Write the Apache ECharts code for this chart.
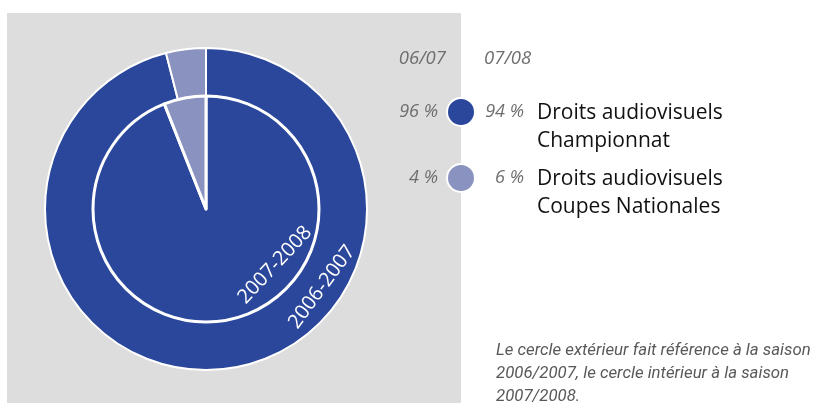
<!DOCTYPE html>
<html>
<head>
<meta charset="utf-8">
<script src="https://cdn.jsdelivr.net/npm/echarts@6/dist/echarts.min.js"></script>
<style>
  html, body { margin: 0; padding: 0; background: #fff; }
  #chart { width: 816px; height: 403px; }
</style>
</head>
<body>
<div id="chart"></div>
<script>
// données
const categories = ["Droits audiovisuels\nChampionnat", "Droits audiovisuels\nCoupes Nationales"];
const saison0607 = [96, 4];
const saison0708 = [94, 6];
const seasonHeaders = ["06/07", "07/08"];
const ringLabels = ["2006-2007", "2007-2008"];
const colors = ["#2a479b", "#8a92bf"];
const note = "Le cercle extérieur fait référence à la saison\n2006/2007, le cercle intérieur à la saison\n2007/2008.";

const chart = echarts.init(document.getElementById("chart"));

function toData(values) {
    return values.map(function (v, i) {
        return { name: categories[i], value: v, itemStyle: { color: colors[i] } };
    });
}

const greyFont = "'Open Sans', sans-serif";
const graphics = [
    { type: 'rect', z: -10, shape: { x: 7, y: 13, width: 454, height: 395 }, style: { fill: '#dcdddc' } },
    { type: 'text', z: 100, x: 446, y: 59, style: { text: seasonHeaders[0], fill: '#6d6e70', font: 'italic 18.5px ' + greyFont, align: 'right', verticalAlign: 'middle' } },
    { type: 'text', z: 100, x: 484, y: 59, style: { text: seasonHeaders[1], fill: '#6d6e70', font: 'italic 18.5px ' + greyFont, align: 'left', verticalAlign: 'middle' } },
    { type: 'text', z: 100, x: 496, y: 339, style: { text: note, fill: '#58595b', font: 'italic 16.8px Roboto, sans-serif', lineHeight: 23, verticalAlign: 'top' } },
    { type: 'text', z: 100, x: 275, y: 265, rotation: 47 * Math.PI / 180, style: { text: ringLabels[1], fill: '#fff', font: '20px ' + greyFont, align: 'center', verticalAlign: 'middle' } },
    { type: 'text', z: 100, x: 322, y: 287, rotation: 53.5 * Math.PI / 180, style: { text: ringLabels[0], fill: '#fff', font: '20px ' + greyFont, align: 'center', verticalAlign: 'middle' } }
];

categories.forEach(function (name, i) {
    const y = 112 + i * 66;
    graphics.push({ type: 'circle', z: 100, shape: { cx: 461, cy: y, r: 14 }, style: { fill: colors[i], stroke: '#fff', lineWidth: 2 } });
    graphics.push({ type: 'text', z: 100, x: 438, y: y, style: { text: saison0607[i] + ' %', fill: '#6d6e70', font: 'italic 18px ' + greyFont, align: 'right', verticalAlign: 'middle' } });
    graphics.push({ type: 'text', z: 100, x: 524, y: y, style: { text: saison0708[i] + ' %', fill: '#6d6e70', font: 'italic 18px ' + greyFont, align: 'right', verticalAlign: 'middle' } });
    graphics.push({ type: 'text', z: 100, x: 537, y: y - 13, style: { text: name, fill: '#111', font: '21px ' + greyFont, lineHeight: 28, verticalAlign: 'top' } });
});

const option = {
    animation: false,
    graphic: graphics,
    series: [{
        type: 'pie',
        radius: [0, 161],
        center: [206, 209],
        startAngle: 90,
        label: { show: false },
        labelLine: { show: false },
        silent: true,
        itemStyle: { borderColor: '#fff', borderWidth: 2 },
        data: toData(saison0607)
    }, {
        type: 'pie',
        radius: [0, 113],
        center: [206, 209],
        startAngle: 90,
        label: { show: false },
        labelLine: { show: false },
        silent: true,
        itemStyle: { borderColor: '#fff', borderWidth: 3 },
        data: toData(saison0708)
    }]
};
chart.setOption(option);
</script>
</body>
</html>
